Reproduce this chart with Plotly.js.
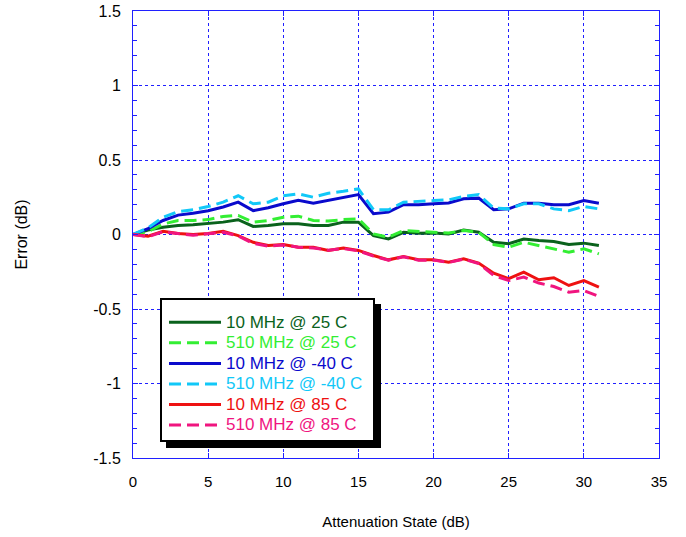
<!DOCTYPE html>
<html>
<head>
<meta charset="utf-8">
<script src="https://cdn.plot.ly/plotly-3.0.1.min.js"></script>
<style>html,body{margin:0;padding:0;background:#fff;}#chart{width:686px;height:537px;}</style>
</head>
<body>
<div id="chart"></div>
<script>
const atten = [0,1,2,3,4,5,6,7,8,9,10,11,12,13,14,15,16,17,18,19,20,21,22,23,24,25,26,27,28,29,30,31];
const err10_25 = [0,0.03,0.049,0.06,0.065,0.072,0.083,0.099,0.054,0.06,0.072,0.072,0.06,0.06,0.083,0.083,-0.007,-0.03,0.015,0.009,0.01,0.004,0.03,0.015,-0.052,-0.062,-0.03,-0.04,-0.047,-0.067,-0.058,-0.074];
const err510_25 = [0,0.02,0.07,0.094,0.094,0.1,0.121,0.128,0.083,0.094,0.116,0.123,0.094,0.09,0.1,0.105,0.004,-0.018,0.027,0.02,0.015,0.01,0.027,0.015,-0.067,-0.085,-0.052,-0.074,-0.096,-0.119,-0.096,-0.13];
const err10_m40 = [0,0.04,0.094,0.13,0.143,0.16,0.185,0.217,0.16,0.18,0.206,0.23,0.21,0.228,0.25,0.268,0.139,0.15,0.2,0.2,0.206,0.212,0.24,0.244,0.166,0.172,0.21,0.21,0.2,0.2,0.228,0.21];
const err510_m40 = [0,0.045,0.116,0.154,0.166,0.188,0.217,0.26,0.206,0.217,0.26,0.273,0.25,0.277,0.29,0.306,0.166,0.166,0.217,0.22,0.228,0.233,0.255,0.268,0.177,0.172,0.206,0.206,0.172,0.16,0.188,0.172];
const err10_85 = [0,-0.011,0.022,0.007,0,0.007,0.022,-0.007,-0.052,-0.074,-0.067,-0.085,-0.085,-0.107,-0.09,-0.107,-0.141,-0.17,-0.148,-0.17,-0.17,-0.186,-0.163,-0.192,-0.26,-0.297,-0.253,-0.304,-0.29,-0.342,-0.309,-0.353];
const err510_85 = [0,-0.015,0.018,0.005,-0.005,0.005,0.015,-0.01,-0.06,-0.078,-0.07,-0.085,-0.09,-0.105,-0.095,-0.11,-0.145,-0.172,-0.15,-0.172,-0.172,-0.188,-0.165,-0.195,-0.275,-0.309,-0.286,-0.326,-0.349,-0.387,-0.376,-0.416];
const seriesNames = ["10 MHz @ 25 C","510 MHz @ 25 C","10 MHz @ -40 C","510 MHz @ -40 C","10 MHz @ 85 C","510 MHz @ 85 C"];
const xTickVals = [0,5,10,15,20,25,30,35];
const yTickVals = [-1.5,-1,-0.5,0,0.5,1,1.5];
const yTickText = ["-1.5","-1","-0.5","0","0.5","1","1.5"];

const colors = ["#0a621c","#33ee33","#0a0acc","#11c8f8","#ee1111","#f0157f"];
const dashes = ["solid","12px,6px","solid","12px,6px","solid","12px,6px"];
const ys = [err10_25, err510_25, err10_m40, err510_m40, err10_85, err510_85];
const traces = ys.map((y,i)=>({
  x: atten, y: y, type: "scatter", mode: "lines",
  name: '<span style="color:'+colors[i]+';font-size:17px">'+seriesNames[i]+'</span>',
  line: {color: colors[i], width: 3, dash: dashes[i]},
  legendrank: i+1
}));

const L=133, R=27, T=11, B=79, W=686, H=537;
const pw = W-L-R, ph = H-T-B;
const px = v => (v-L)/pw;
const py = v => (H-B-v)/ph;

const layout = {
  width: W, height: H,
  margin: {l:L, r:R, t:T, b:B, pad:0},
  paper_bgcolor: "#ffffff", plot_bgcolor: "#ffffff",
  font: {family: "Liberation Sans, Arial, sans-serif", size: 15, color: "#000"},
  showlegend: true,
  legend: {
    x: px(164), y: py(307), xanchor: "left", yanchor: "top",
    bgcolor: "rgba(0,0,0,0)", borderwidth: 0,
    font: {family: "Liberation Sans, Arial, sans-serif", size: 13.5},
    itemwidth: 52, tracegroupgap: 0, traceorder: "normal"
  },
  xaxis: {
    range: [0,35], tickvals: xTickVals, ticktext: xTickVals.map(String),
    showgrid: true, gridcolor: "#2020ff", griddash: "dot", gridwidth: 1,
    zeroline: false, showline: true, linecolor: "#2020ff", linewidth: 1, mirror: "ticks",
    ticks: "inside", ticklen: 5, tickcolor: "#2020ff",
    tickfont: {size: 15}, ticklabelstandoff: 10,
    title: {text: "Attenuation State (dB)", font: {size: 15}, standoff: 27}
  },
  yaxis: {
    range: [-1.5,1.5], tickvals: yTickVals, ticktext: yTickText,
    showgrid: true, gridcolor: "#2020ff", griddash: "dot", gridwidth: 1,
    zeroline: false, showline: true, linecolor: "#2020ff", linewidth: 1, mirror: "ticks",
    ticks: "inside", ticklen: 5, tickcolor: "#2020ff",
    minor: {dtick: 0.1, ticks: "inside", ticklen: 4, tickcolor: "#2020ff", showgrid: false},
    tickfont: {size: 16}, ticklabelstandoff: 8,
    title: {text: "Error (dB)", font: {size: 16}, standoff: 61}
  },
  shapes: [
    {type: "rect", xref: "paper", yref: "paper", layer: "above",
     x0: px(166), x1: px(381), y0: py(448), y1: py(304),
     fillcolor: "#000000", line: {width: 0}},
    {type: "rect", xref: "paper", yref: "paper", layer: "above",
     x0: px(161), x1: px(374), y0: py(441), y1: py(299),
     fillcolor: "#ffffff", line: {color: "#000000", width: 2}}
  ]
};
Plotly.newPlot("chart", traces, layout, {displayModeBar: false, staticPlot: true});
</script>
</body>
</html>
